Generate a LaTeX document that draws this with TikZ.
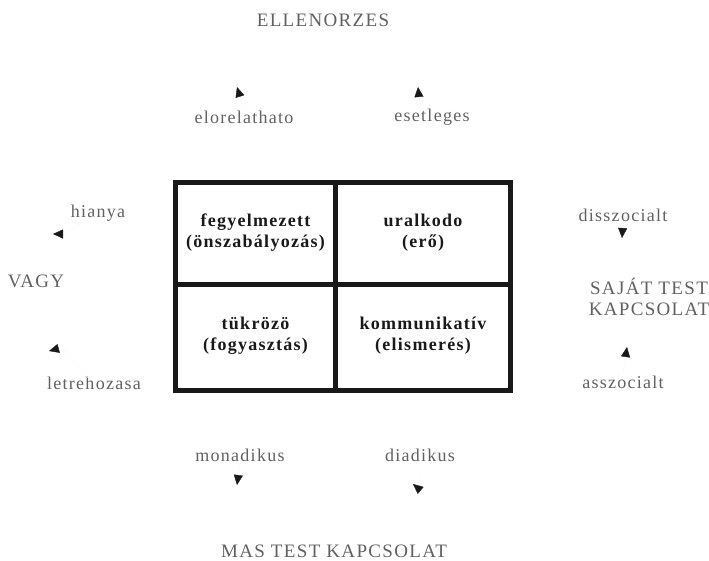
\documentclass[tikz,border=0pt]{standalone}
\usepackage{fontspec}
\setmainfont[LetterSpace=7]{Liberation Serif}
\usetikzlibrary{arrows.meta}

\tikzset{
  axislabel/.style={text=black!62, font=\fontsize{19}{21}\selectfont, align=center, inner sep=1pt},
  polelabel/.style={text=black!62, font=\fontsize{18}{21}\selectfont, inner sep=1pt},
  celltext/.style={text=black!90, font=\fontsize{18}{21}\selectfont\bfseries, align=center},
  tip/.style={draw=black!3, thin, -{Triangle[color=black!90,length=10pt,width=9pt]}},
  gridline/.style={draw=black!90, line width=5pt},
}

\begin{document}
\begin{tikzpicture}[x=1pt,y=-1pt]
\useasboundingbox (0,0) rectangle (709,560);
\draw[gridline] (175.5,182.5) rectangle (510.5,390.5);
\draw[gridline] (335.5,182.5) -- (335.5,390.5);
\draw[gridline] (175.5,284.5) -- (510.5,284.5);
\node[celltext] (Fegy) at (255.5,232.5) {fegyelmezett\\(önszabályozás)};
\node[celltext] (Ural) at (423,232.5) {uralkodo\\(erő)};
\node[celltext] (Tukr) at (255.5,336) {tükrözö\\(fogyasztás)};
\node[celltext] (Komm) at (423,336) {kommunikatív\\(elismerés)};
\node[axislabel] (Ellen) at (323,20) {ELLENORZES};
\node[axislabel] (Vagy) at (36,281) {VAGY};
\node[axislabel] (Sajat) at (649,297) {SAJÁT TEST\\KAPCSOLAT};
\node[axislabel] (Mas) at (334,551) {MAS TEST KAPCSOLAT};
\node[polelabel] (Elo) at (244,117) {elorelathato};
\node[polelabel] (Ese) at (432,117) {esetleges};
\node[polelabel] (Hia) at (98,213) {hianya};
\node[polelabel] (Let) at (94,383) {letrehozasa};
\node[polelabel] (Dis) at (623,215) {disszocialt};
\node[polelabel] (Ass) at (623,382) {asszocialt};
\node[polelabel] (Mon) at (240,455) {monadikus};
\node[polelabel] (Dia) at (420,455) {diadikus};
\coordinate (EloTip) at (237,87);
\coordinate (EseTip) at (418,87);
\coordinate (HiaTip) at (53,234);
\coordinate (LetTip) at (49,351);
\coordinate (DisTip) at (622,238);
\coordinate (AssTip) at (627,347);
\coordinate (MonTip) at (237,485);
\coordinate (DiaTip) at (413,484);
\draw[tip] (Elo.north) -- (EloTip);
\draw[tip] ([xshift=-12pt]Ese.north) -- (EseTip);
\draw[tip] (Hia.south) to[out=90,in=0] (HiaTip);
\draw[tip] (Let.north) to[out=-90,in=15] (LetTip);
\draw[tip] (Dis.south) -- (DisTip);
\draw[tip] (Ass.north) -- (AssTip);
\draw[tip] (Mon.south) -- (MonTip);
\draw[tip] (Dia.south) to[out=90,in=-40] (DiaTip);
\end{tikzpicture}
\end{document}
